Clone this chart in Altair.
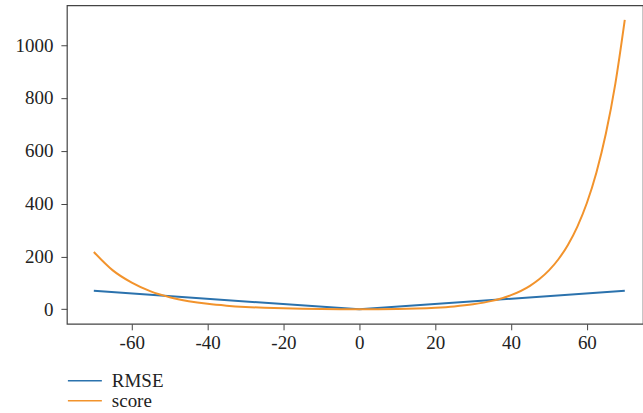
import altair as alt
import pandas as pd

# Prediction error d (predicted - true RUL) and the two penalty curves
err = [-70, -65, -60, -55, -50, -45, -40, -35, -30, -25, -20, -15, -10, -5, 0,
       5, 10, 15, 20, 25, 30, 35, 40, 45, 47.5, 50, 52.5, 55, 57.5, 60, 62.5, 65, 67.5, 70]
score = [217.1, 147.4, 101.0, 67.8, 45.8, 30.9, 20.7, 13.8, 9.05, 5.84, 3.66, 2.17, 1.16, 0.47, 0.0,
         0.65, 1.72, 3.48, 6.39, 11.18, 19.09, 32.12, 53.6, 89.0, 114.6, 147.4, 189.6, 243.7, 313.2,
         402.4, 517.0, 664.1, 853.1, 1095.6]
rmse_err = [-70, 0, 70]
rmse = [70, 0, 70]

series_names = ["RMSE", "score"]
series_colors = ["#2b72ad", "#f2932c"]

x_ticks = [-60, -40, -20, 0, 20, 40, 60]
y_ticks = [0, 200, 400, 600, 800, 1000]

rmse_df = pd.DataFrame({"d": rmse_err, "value": rmse, "series": "RMSE"})
score_df = pd.DataFrame({"d": err, "value": score, "series": "score"})

FONT = "Liberation Serif"

x_enc = alt.X("d:Q",
              scale=alt.Scale(domain=[-77.1, 74.8], nice=False, zero=False),
              axis=alt.Axis(values=x_ticks, title=None, grid=False, domain=False,
                            labelExpr="toString(datum.value)",
                            tickColor="#444", tickSize=6, labelPadding=4,
                            labelFont=FONT, labelFontSize=19, labelColor="#222",
                            labelFlush=False))
y_enc = alt.Y("value:Q",
              scale=alt.Scale(domain=[-54.8, 1150.4], nice=False, zero=False),
              axis=alt.Axis(values=y_ticks, title=None, grid=False, domain=False,
                            labelExpr="toString(datum.value)",
                            tickColor="#444", tickSize=6, labelPadding=8,
                            labelFont=FONT, labelFontSize=19, labelColor="#222",
                            labelFlush=False))
# horizontal line swatch: symbol radius sqrt(324)/2 = 9 px, path runs 0..34 px from the entry start
color_enc = alt.Color("series:N",
                      scale=alt.Scale(domain=series_names, range=series_colors),
                      legend=alt.Legend(title=None, orient="none", legendX=0, legendY=366,
                                        padding=0,
                                        symbolType="M-1,0H2.78", symbolSize=324,
                                        symbolStrokeWidth=1.5, rowPadding=0,
                                        labelFont=FONT, labelFontSize=19, labelColor="#222",
                                        labelOffset=25, symbolOffset=0))

rmse_line = alt.Chart(rmse_df).mark_line(strokeWidth=2).encode(
    x=x_enc, y=y_enc, color=color_enc)
score_line = alt.Chart(score_df).mark_line(strokeWidth=2, interpolate="monotone").encode(
    x=x_enc, y=y_enc, color=color_enc)

chart = alt.layer(rmse_line, score_line).properties(
    width=577,
    height=319,
    padding={"left": 67, "top": 5, "right": 0, "bottom": 89},
    autosize=alt.AutoSizeParams(type="none"),
    background="white",
).configure_view(
    stroke="#444",
    strokeWidth=1.2,
)

chart.save("out.html", embed_options={"renderer": "svg", "actions": False})
